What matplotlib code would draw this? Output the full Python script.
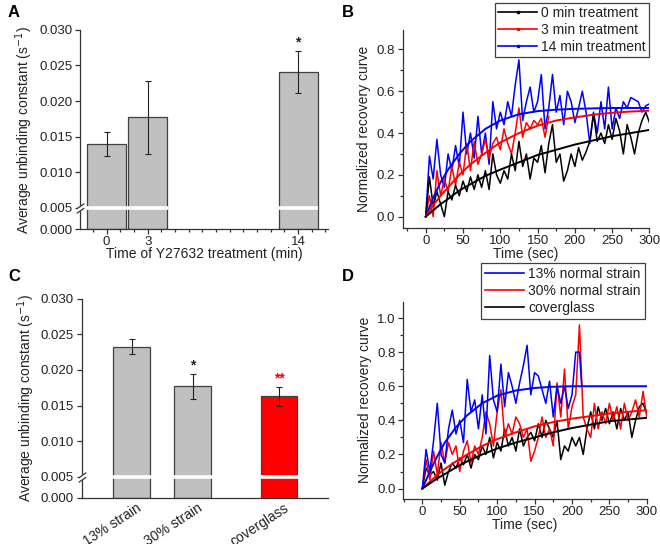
import numpy as np
import matplotlib
matplotlib.use("Agg")
import matplotlib.pyplot as plt
from matplotlib.path import Path
from matplotlib.lines import Line2D
from matplotlib.ticker import MultipleLocator, FixedLocator, FormatStrFormatter
from matplotlib.transforms import blended_transform_factory, ScaledTranslation

plt.rcParams["font.family"] = ["Liberation Sans", "DejaVu Sans"]
TXT = "#222222"
AXC = "#333333"

# ---- Panel A: unbinding constant vs Y27632 treatment time
a_times = [0, 3, 14]
a_vals = [0.0139, 0.0177, 0.0241]
a_errs = [0.0017, 0.0051, 0.0030]
a_labels = ["0", "3", "14"]

# ---- Panel C: unbinding constant vs strain
c_labels = ["13% strain", "30% strain", "coverglass"]
c_pos = [1, 2, 3.42]
c_vals = [0.0233, 0.0177, 0.0163]
c_errs = [0.0010, 0.0018, 0.0013]
c_colors = ["#c0c0c0", "#c0c0c0", "#ff0000"]

# ---- Panel B: recovery curves (raw, 5 s steps)
b_t = list(range(0, 301, 5))
b_black = [0.00, 0.19, 0.05, 0.12, 0.06, 0.00, 0.12, 0.08, 0.15, 0.10, 0.17, 0.12, 0.19,
           0.13, 0.20, 0.14, 0.22, 0.13, 0.30, 0.20, 0.16, 0.22, 0.18, 0.30, 0.22, 0.36,
           0.24, 0.30, 0.18, 0.28, 0.26, 0.34, 0.21, 0.35, 0.44, 0.26, 0.30, 0.17, 0.22,
           0.30, 0.24, 0.33, 0.27, 0.31, 0.36, 0.49, 0.36, 0.40, 0.35, 0.44, 0.37, 0.47,
           0.41, 0.30, 0.44, 0.38, 0.30, 0.40, 0.46, 0.50, 0.45]
b_red_t = list(range(0, 166, 5))
b_red = [0.00, 0.10, 0.00, 0.22, 0.10, 0.18, 0.12, 0.24, 0.15, 0.26, 0.20, 0.35, 0.22,
         0.36, 0.25, 0.30, 0.37, 0.28, 0.35, 0.38, 0.32, 0.42, 0.35, 0.30, 0.40, 0.52,
         0.38, 0.45, 0.42, 0.46, 0.44, 0.47, 0.38, 0.48]
b_blue = [0.00, 0.29, 0.18, 0.37, 0.20, 0.14, 0.30, 0.22, 0.34, 0.24, 0.50, 0.30, 0.40,
          0.28, 0.48, 0.30, 0.40, 0.25, 0.55, 0.42, 0.50, 0.44, 0.55, 0.48, 0.63, 0.75,
          0.46, 0.55, 0.62, 0.50, 0.55, 0.68, 0.42, 0.52, 0.68, 0.50, 0.58, 0.44, 0.60,
          0.55, 0.45, 0.52, 0.60, 0.50, 0.35, 0.50, 0.40, 0.55, 0.42, 0.62, 0.42, 0.52,
          0.47, 0.55, 0.52, 0.57, 0.56, 0.55, 0.50, 0.53, 0.54]
# fitted curves
fit_t = [0, 10, 20, 30, 45, 60, 80, 100, 125, 150, 175, 200, 225, 250, 275, 300]
b_black_fit = [0, 0.03, 0.06, 0.085, 0.125, 0.155, 0.195, 0.225, 0.26, 0.295, 0.32, 0.345,
               0.365, 0.385, 0.40, 0.415]
b_red_fit = [0, 0.055, 0.10, 0.14, 0.20, 0.25, 0.305, 0.355, 0.40, 0.435, 0.46, 0.475,
             0.488, 0.497, 0.503, 0.507]
b_blue_fit = [0, 0.09, 0.165, 0.225, 0.30, 0.36, 0.42, 0.46, 0.49, 0.505, 0.512, 0.516,
              0.518, 0.52, 0.52, 0.52]

# ---- Panel D: recovery curves under strain
d_t = list(range(0, 301, 5))
d_blue_t = list(range(0, 211, 5)) + [213]
d_blue = [0.00, 0.23, 0.10, 0.28, 0.50, 0.20, 0.15, 0.35, 0.46, 0.32, 0.40, 0.27, 0.64,
          0.45, 0.52, 0.35, 0.55, 0.32, 0.78, 0.52, 0.45, 0.73, 0.48, 0.68, 0.60, 0.50,
          0.62, 0.72, 0.84, 0.55, 0.68, 0.66, 0.58, 0.50, 0.63, 0.42, 0.60, 0.50, 0.60,
          0.47, 0.55, 0.80, 0.80, 0.60]
d_red = [0.00, 0.17, 0.05, 0.22, 0.08, 0.27, 0.15, 0.27, 0.20, 0.25, 0.10, 0.22, 0.28,
         0.15, 0.25, 0.20, 0.30, 0.45, 0.38, 0.25, 0.45, 0.58, 0.30, 0.38, 0.32, 0.42,
         0.38, 0.30, 0.35, 0.16, 0.22, 0.30, 0.42, 0.30, 0.35, 0.25, 0.62, 0.42, 0.70,
         0.35, 0.48, 0.55, 0.96, 0.42, 0.35, 0.30, 0.50, 0.35, 0.45, 0.38, 0.50, 0.40,
         0.48, 0.35, 0.50, 0.40, 0.45, 0.52, 0.42, 0.57, 0.42]
d_black = [0.00, 0.12, 0.08, 0.10, 0.05, 0.15, 0.02, 0.10, 0.15, 0.12, 0.18, 0.14, 0.20,
           0.12, 0.20, 0.17, 0.25, 0.20, 0.30, 0.18, 0.27, 0.22, 0.35, 0.25, 0.30, 0.22,
           0.35, 0.25, 0.30, 0.33, 0.28, 0.38, 0.30, 0.40, 0.35, 0.30, 0.40, 0.17, 0.25,
           0.22, 0.30, 0.25, 0.30, 0.20, 0.35, 0.45, 0.35, 0.48, 0.40, 0.47, 0.38, 0.45,
           0.35, 0.47, 0.40, 0.45, 0.30, 0.40, 0.48, 0.50, 0.44]
d_blue_fit = [0, 0.10, 0.19, 0.27, 0.36, 0.43, 0.50, 0.545, 0.575, 0.59, 0.597, 0.60,
              0.60, 0.60, 0.60, 0.60]
d_red_fit = [0, 0.04, 0.08, 0.115, 0.16, 0.20, 0.25, 0.29, 0.33, 0.365, 0.39, 0.41,
             0.425, 0.44, 0.45, 0.46]
d_black_fit = [0, 0.03, 0.06, 0.085, 0.125, 0.16, 0.20, 0.235, 0.27, 0.30, 0.33, 0.355,
               0.375, 0.395, 0.405, 0.415]

BRK = 0.005
K = 0.6


def fwd(y):
    y = np.asarray(y, dtype=float)
    return np.where(y < BRK, y * K, BRK * K + (y - BRK))


def inv(y):
    y = np.asarray(y, dtype=float)
    return np.where(y < BRK * K, y / K, y - BRK * K + BRK)


def style_axes(ax):
    for s in ["top", "right"]:
        ax.spines[s].set_visible(False)
    for s in ["left", "bottom"]:
        ax.spines[s].set_color(AXC)
        ax.spines[s].set_linewidth(0.9)
    ax.tick_params(which="both", direction="out", color=AXC, labelcolor=TXT, labelsize=9.5, width=0.9)
    ax.tick_params(which="major", length=3.5)
    ax.tick_params(which="minor", length=2)
    ax.tick_params(axis="x", pad=1.5)
    ax.tick_params(axis="y", pad=2)


def bar_panel(ax, pos, vals, errs, colors, width):
    ax.set_yscale("function", functions=(fwd, inv))
    ax.bar(pos, vals, width, color=colors, edgecolor="#404040", linewidth=0.9, zorder=2)
    ax.errorbar(pos, vals, yerr=errs, fmt="none", ecolor="#222222", elinewidth=0.8,
                capsize=2, capthick=0.8, zorder=4)
    for p in pos:
        ax.hlines(BRK, p - width / 2 - 0.06, p + width / 2 + 0.06, color="white", lw=2.6, zorder=5)
    ax.set_ylim(0, 0.030)
    ax.yaxis.set_major_locator(FixedLocator(np.arange(0, 0.0301, 0.005)))
    ax.yaxis.set_major_formatter(FormatStrFormatter("%.3f"))
    ax.yaxis.set_minor_locator(FixedLocator([]))
    ax.set_ylabel("Average unbinding constant (s$^{-1}$)", fontsize=10, color=TXT, labelpad=3)
    style_axes(ax)
    # axis break mark on the left spine
    tr = blended_transform_factory(ax.transAxes, ax.transData)
    ax.plot([0], [BRK], transform=tr, marker="s", ms=3.5, color="white", mec="white",
            clip_on=False, zorder=6)
    brk = Path([(-1, -1.3), (1, 0.1), (-1, -0.1), (1, 1.3)],
               [Path.MOVETO, Path.LINETO, Path.MOVETO, Path.LINETO])
    ax.plot([0], [BRK], transform=tr, marker=brk, ms=7, color=AXC, mew=0.9,
            clip_on=False, zorder=7)


fig = plt.figure(figsize=(6.6, 5.44), dpi=100)
fig.patch.set_facecolor("white")

# ---------------- A
axA = fig.add_axes([0.1212, 0.579, 0.376, 0.366])
bar_panel(axA, a_times, a_vals, a_errs, ["#c0c0c0"] * 3, 2.85)
axA.set_xlim(-1.95, 16.2)
axA.xaxis.set_major_locator(FixedLocator(a_times))
axA.set_xticklabels(a_labels)
axA.xaxis.set_minor_locator(MultipleLocator(1))
axA.set_xlabel("Time of Y27632 treatment (min)", fontsize=10, color=TXT, labelpad=-1)
axA.text(14, 0.0272, "*", ha="center", va="bottom", fontsize=10, color="#222222", weight="bold")

# ---------------- C
axC = fig.add_axes([0.1238, 0.0846, 0.373, 0.366])
bar_panel(axC, c_pos, c_vals, c_errs, c_colors, 0.6)
axC.set_xlim(0.18, 4.22)
axC.set_xticks(c_pos)
axC.set_xticklabels(c_labels, rotation=33, ha="right", va="top", rotation_mode="anchor", fontsize=10)
axC.tick_params(axis="x", length=0, pad=2)
for lab in axC.get_xticklabels():
    lab.set_transform(lab.get_transform() + ScaledTranslation(3.5 / 72, 0, fig.dpi_scale_trans))
axC.text(c_pos[1], 0.0197, "*", ha="center", va="bottom", fontsize=10, color="#222222", weight="bold")
axC.text(c_pos[2], 0.0178, "**", ha="center", va="bottom", fontsize=10, color="#ff0000", weight="bold")


def curve_panel(ax, ylim, ymax_tick):
    ax.set_ylim(*ylim)
    ax.yaxis.set_major_locator(FixedLocator(np.arange(0, ymax_tick + 0.01, 0.2)))
    ax.yaxis.set_major_formatter(FormatStrFormatter("%.1f"))
    ax.yaxis.set_minor_locator(MultipleLocator(0.1))
    ax.xaxis.set_major_locator(MultipleLocator(50))
    ax.xaxis.set_minor_locator(MultipleLocator(25))
    ax.set_xlabel("Time (sec)", fontsize=10, color=TXT, labelpad=0)
    ax.set_ylabel("Normalized recovery curve", fontsize=10, color=TXT, labelpad=4)
    style_axes(ax)


LW = 1.1
# ---------------- B
axB = fig.add_axes([0.610, 0.5814, 0.374, 0.3634])
axB.plot(b_t, b_blue, color="#0000ff", lw=LW)
axB.plot(b_red_t, b_red, color="#ff0000", lw=LW)
axB.plot(b_t, b_black, color="#000000", lw=LW)
axB.plot(fit_t, b_blue_fit, color="#0000ff", lw=1.4)
axB.plot(fit_t, b_red_fit, color="#ff0000", lw=1.4)
axB.plot(fit_t, b_black_fit, color="#000000", lw=1.4)
axB.set_xlim(-31, 300)
curve_panel(axB, (-0.053, 0.893), 0.8)
hB = [Line2D([], [], color=c, lw=1.2, marker="s", ms=1.5) for c in ["#000000", "#ff0000", "#0000ff"]]
legB = fig.legend(hB, ["0 min treatment", "3 min treatment", "14 min treatment"],
                  loc="upper right", bbox_to_anchor=(0.984, 0.995), fontsize=10,
                  frameon=True, fancybox=False, framealpha=1, edgecolor="#404040",
                  handlelength=2.8, handletextpad=0.3, labelspacing=0.2, borderpad=0.25,
                  borderaxespad=0)
legB.get_frame().set_linewidth(0.9)
for t in legB.get_texts():
    t.set_color(TXT)

# ---------------- D
axD = fig.add_axes([0.611, 0.0833, 0.369, 0.3616])
axD.plot(d_t, d_black, color="#000000", lw=LW)
axD.plot(d_t, d_red, color="#ff0000", lw=LW)
axD.plot(d_blue_t, d_blue, color="#0000ff", lw=LW)
axD.plot(fit_t, d_blue_fit, color="#0000ff", lw=1.4)
axD.plot(fit_t, d_red_fit, color="#ff0000", lw=1.4)
axD.plot(fit_t, d_black_fit, color="#000000", lw=1.4)
axD.set_xlim(-25.5, 300)
curve_panel(axD, (-0.059, 1.094), 1.0)
hD = [Line2D([], [], color=c, lw=1.2) for c in ["#0000ff", "#ff0000", "#000000"]]
legD = fig.legend(hD, ["13% normal strain", "30% normal strain", "coverglass"],
                  loc="upper right", bbox_to_anchor=(0.977, 0.5165), fontsize=10,
                  frameon=True, fancybox=False, framealpha=1, edgecolor="#404040",
                  handlelength=2.8, handletextpad=0.3, labelspacing=0.2, borderpad=0.3,
                  borderaxespad=0)
legD.get_frame().set_linewidth(0.9)
for t in legD.get_texts():
    t.set_color(TXT)

# panel letters
for lbl, x, y in [("A", 0.012, 0.99), ("B", 0.518, 0.99), ("C", 0.012, 0.505), ("D", 0.518, 0.505)]:
    fig.text(x, y, lbl, fontsize=12, weight="bold", ha="left", va="top", color="#000000")

fig.savefig("out.png", dpi=100, facecolor="white")
